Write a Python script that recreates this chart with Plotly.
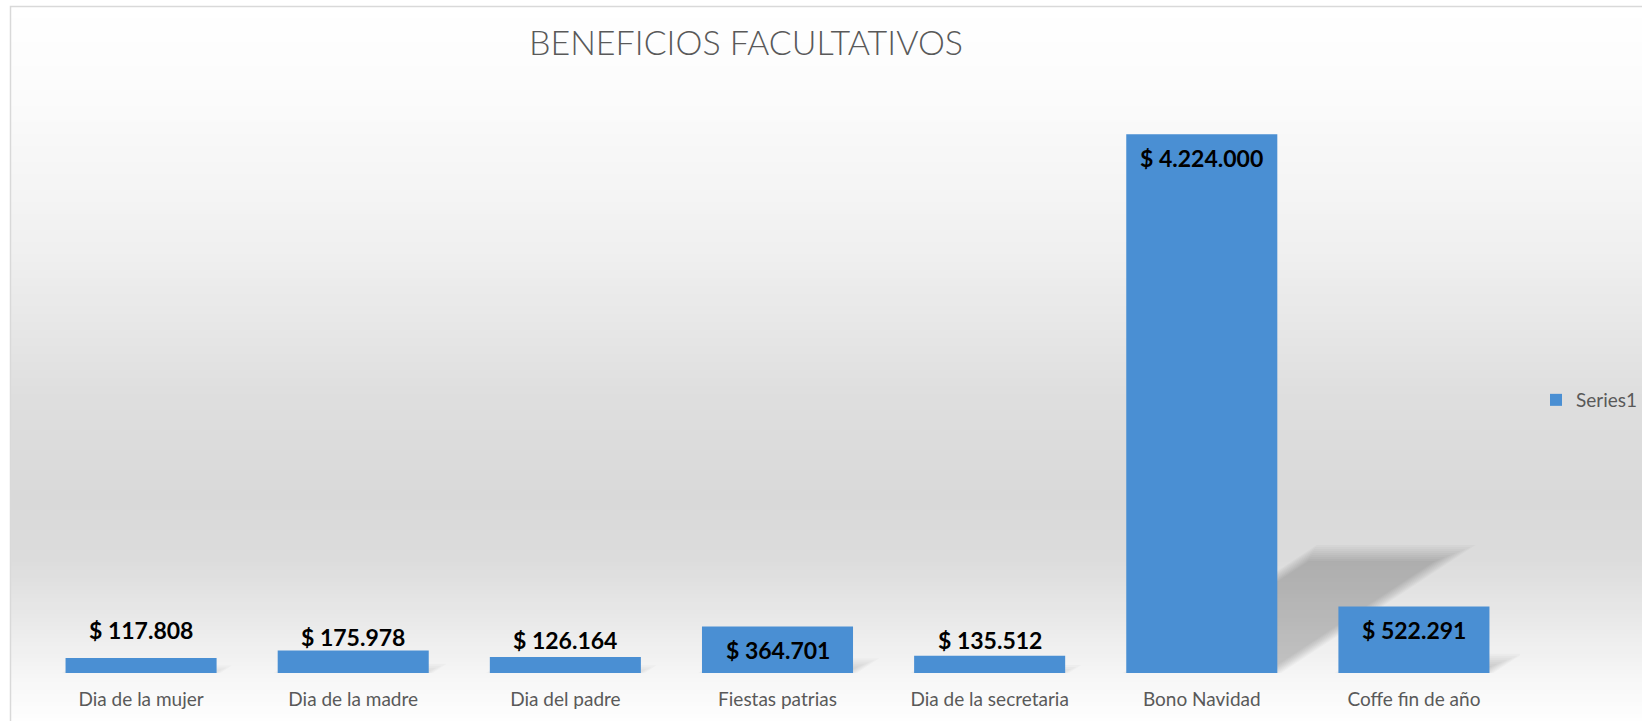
import plotly.graph_objects as go

# ---------------- data ----------------
categories = ["Dia de la mujer", "Dia de la madre", "Dia del padre", "Fiestas patrias",
              "Dia de la secretaria", "Bono Navidad", "Coffe fin de año"]
values = [117808, 175978, 126164, 364701, 135512, 4224000, 522291]
series_name = "Series1"
title_text = "BENEFICIOS FACULTATIVOS"

# ---------------- style ----------------
W, H = 1642, 721
ML, MR, MT, MB = 35, 122, 99, 48
Y_MAX = 4500000
BAR_COLOR = "#4a8fd3"
BAR_WIDTH = 0.712
LABEL_SHIFT = [28, 14, 17, -24, 16, -24, -24]   # px offset of data label from bar top
FONT = "Lato, Carlito, Calibri, 'Open Sans', sans-serif"
GREY_TXT = "#595959"

plot_w = W - ML - MR
plot_h = H - MT - MB


def px_to_paper_x(px):
    return (px - ML) / plot_w


def px_to_paper_y(py):
    return (H - MB - py) / plot_h


x_idx = list(range(len(categories)))

fig = go.Figure()
fig.add_trace(go.Bar(
    x=x_idx, y=values, name=series_name, width=BAR_WIDTH,
    marker=dict(color=BAR_COLOR, line=dict(width=0)),
    showlegend=True, hoverinfo="x+y",
))

shapes = []

# background vertical gradient (chart area fill)
stops = [(6, 255), (100, 251), (250, 240), (400, 222), (500, 217), (560, 220),
         (620, 233), (680, 247), (721, 254)]


def grey_at(p):
    for (p0, g0), (p1, g1) in zip(stops[:-1], stops[1:]):
        if p0 <= p <= p1:
            return g0 + (g1 - g0) * (p - p0) / (p1 - p0)
    return 255


band = 4
p = 6
while p < H:
    g = int(round(grey_at(p + band / 2)))
    shapes.append(dict(type="rect", xref="paper", yref="paper", layer="below",
                       x0=px_to_paper_x(10), x1=px_to_paper_x(W + 20),
                       y0=px_to_paper_y(p + band + 0.5), y1=px_to_paper_y(p),
                       fillcolor=f"rgb({g},{g},{g})", line=dict(width=0)))
    p += band

# chart frame
shapes.append(dict(type="rect", xref="paper", yref="paper", layer="below",
                   x0=px_to_paper_x(10.5), x1=px_to_paper_x(W + 30),
                   y0=px_to_paper_y(H + 30), y1=px_to_paper_y(6.5),
                   fillcolor="rgba(0,0,0,0)", line=dict(color="#d9d9d9", width=1.5)))

# soft perspective shadows derived from each bar value
SH_H = 0.23
SH_SKEW = 1.52
px_per_val = plot_h / Y_MAX
px_per_cat = plot_w / len(categories)
N_LAYERS = 9
for i, v in enumerate(values):
    top = SH_H * v
    dx = SH_SKEW * top * px_per_val / px_per_cat
    for k in range(N_LAYERS):
        ins = (k * 2.0 - 4) / px_per_cat
        insy = (k * 2.0 - 4) / px_per_val
        hw = BAR_WIDTH / 2
        x0, x1 = i - hw + ins, i + hw - ins
        ytop = max(top - insy, 0)
        d = dx * ytop / top if top > 0 else 0
        path = (f"M {x0},0 L {x1},0 L {x1 + d},{ytop} L {x0 + d},{ytop} Z")
        shapes.append(dict(type="path", xref="x", yref="y", layer="below", path=path,
                           fillcolor="rgba(0,0,0,0.022)", line=dict(width=0)))

annotations = []
for i, v in enumerate(values):
    annotations.append(dict(
        x=i, y=v, xref="x", yref="y", showarrow=False,
        text="$ " + f"{v:,}".replace(",", "."),
        yshift=LABEL_SHIFT[i], yanchor="middle", xanchor="center",
        font=dict(family=FONT, size=23, color="#000000", weight="bold"),
    ))

fig.update_layout(
    width=W, height=H,
    margin=dict(l=ML, r=MR, t=MT, b=MB, pad=0, autoexpand=False),
    paper_bgcolor="white", plot_bgcolor="rgba(0,0,0,0)",
    title=dict(text=title_text, xref="container", yref="container",
               x=746 / W, xanchor="center", y=1 - 43 / H, yanchor="middle",
               font=dict(family=FONT, size=34, color=GREY_TXT, weight=300)),
    xaxis=dict(range=[-0.5, len(categories) - 0.5], tickvals=x_idx, ticktext=categories,
               showgrid=False, zeroline=False, showline=False, ticks="",
               ticklabelstandoff=13, automargin=False,
               tickfont=dict(family=FONT, size=19, color=GREY_TXT), fixedrange=True),
    yaxis=dict(range=[0, Y_MAX], visible=False, showgrid=False, zeroline=False,
               fixedrange=True, automargin=False),
    legend=dict(xref="container", yref="container", x=1536 / W, xanchor="left",
                y=1 - 400 / H, yanchor="middle", bgcolor="rgba(0,0,0,0)",
                font=dict(family=FONT, size=19, color=GREY_TXT)),
    shapes=shapes,
    annotations=annotations,
    bargap=0.288,
)

fig.write_html("out.html", config={"displayModeBar": False},
               post_script="document.body.style.margin='0';document.body.style.overflow='hidden';")
